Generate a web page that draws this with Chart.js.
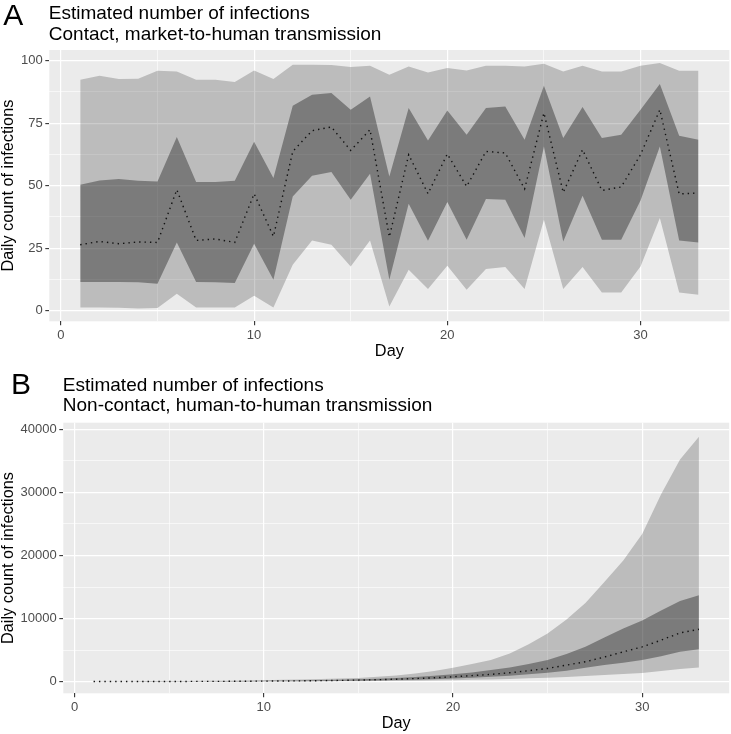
<!DOCTYPE html>
<html><head><meta charset="utf-8">
<script src="https://cdn.jsdelivr.net/npm/chart.js@4.4.0/dist/chart.umd.min.js"></script>
<style>
html,body{margin:0;padding:0;background:#fff;}
#wrap{position:relative;width:731px;height:734px;}
canvas{position:absolute;left:0;}
#cA{top:0;} #cB{top:362px;}
</style></head><body>
<div id="wrap"><canvas id="cA" width="731" height="362"></canvas><canvas id="cB" width="731" height="372"></canvas></div>
<script>
const days = [1,2,3,4,5,6,7,8,9,10,11,12,13,14,15,16,17,18,19,20,21,22,23,24,25,26,27,28,29,30,31,32,33];

// Panel A: contact, market-to-human transmission
const outerUpperA = [92.4,94,92.7,92.8,96,95.7,92.4,92.4,91.5,96.1,92.7,98.4,98.4,98.3,97.5,98,94.4,97.7,95.3,97.1,96.1,98,98,97.7,98.8,95.7,98,95.7,95.7,98,99.1,96,96];
const innerUpperA = [50.4,52.1,52.7,52,51.7,69.5,51.5,51.5,52,67.6,53.1,82,86.4,87.1,80.4,85.7,53.7,81.1,68.1,80.1,70.4,81.1,81.7,68.4,90,69.1,81.5,69.1,70.4,80.4,90.7,70,68.4];
const medianA     = [26.4,27.7,26.8,27.5,27.3,48.4,28.1,28.7,27.3,46.8,29.7,63.7,72,73.5,64.1,72.4,29.5,62.4,46.8,62.7,49.7,63.7,63.1,48.7,79.1,47.3,64.4,48.1,49.5,62.4,80.4,46.7,47.1];
const innerLowerA = [11.5,11.5,11.5,11.4,10.8,27.3,11.5,11.4,11.1,26.8,12.4,45.7,54,55.5,44.4,54.8,12.4,42.8,28,43.5,28.4,44.7,44.4,29.1,65.7,27.7,46,28.4,28.4,44.1,65.7,28.1,27.3];
const outerLowerA = [1.3,1.3,1.2,0.9,1.1,6.8,1.3,1.3,1.3,6,1.3,18.4,28.1,26.4,17.7,28.1,1.7,16.4,8.7,18,8.4,16.7,17.5,8.7,36.4,8.7,17.5,7.3,7.3,17.7,37.1,7.3,6.4];

// Panel B: non-contact, human-to-human transmission
const outerUpperB = [70,76,83,92,103,117,135,160,195,240,290,350,420,500,600,780,1000,1300,1700,2200,2800,3420,4470,5940,7630,9840,12470,15800,19200,23400,29700,35200,38800];
const innerUpperB = [40,43,47,52,58,66,76,90,110,135,165,200,245,305,380,470,590,740,930,1160,1450,1840,2260,2790,3420,4370,5520,7000,8420,9700,11300,12800,13700];
const medianB     = [26,28,30,33,37,42,48,58,72,90,110,135,165,205,255,315,395,495,620,780,960,1160,1420,1740,2100,2630,3160,3900,4730,5520,6580,7730,8310];
const innerLowerB = [16,18,19,21,24,27,31,37,46,58,70,86,105,130,165,205,255,320,400,500,640,790,950,1160,1420,1740,2210,2630,3000,3420,4050,4730,5150];
const outerLowerB = [8,8,9,10,11,12,14,17,21,26,32,40,48,60,75,92,115,145,180,225,290,360,440,530,630,740,890,1050,1210,1370,1680,2000,2260];

// Tick positions (majors labelled, minors only as thin gridlines)
const xTicksMajor = [0,10,20,30];
const xTicksMinor = [5,15,25];
const yTicksMajorA = [0,25,50,75,100];
const yTicksMinorA = [12.5,37.5,62.5,87.5];
const yTicksMajorB = [0,10000,20000,30000,40000];
const yTicksMinorB = [5000,15000,25000,35000];

Chart.defaults.font.family = '"Liberation Sans", Arial, sans-serif';
Chart.defaults.animation = false;

const bgPlugin = {
  id: 'panelBg',
  beforeDraw(chart) {
    const {ctx, chartArea: a} = chart;
    ctx.save();
    ctx.fillStyle = '#EBEBEB';
    ctx.fillRect(a.left, a.top, a.right - a.left, a.bottom - a.top);
    ctx.restore();
  }
};

const titlePlugin = {
  id: 'panelTitle',
  afterDraw(chart, args, o) {
    const ctx = chart.ctx;
    ctx.save();
    ctx.fillStyle = '#000';
    ctx.textAlign = 'left';
    ctx.textBaseline = 'alphabetic';
    ctx.font = '30px "Liberation Sans", Arial, sans-serif';
    ctx.fillText(o.letter, o.letterX, o.letterY);
    ctx.font = '19px "Liberation Sans", Arial, sans-serif';
    o.lines.forEach((t, i) => ctx.fillText(t, chart.chartArea.left - 0.5, o.lineY[i]));
    ctx.restore();
  }
};

function pts(arr) { return days.map((d, i) => ({x: d, y: arr[i]})); }

function datasets(med, iu, il, ou, ol) {
  const clear = 'rgba(0,0,0,0)';
  return [
    {data: pts(med), borderColor: '#111', borderWidth: 1.4, borderDash: [1.4, 4], pointRadius: 0, fill: false, tension: 0},
    {data: pts(iu), borderColor: clear, borderWidth: 0.01, pointRadius: 0, fill: 2, backgroundColor: 'rgba(0,0,0,0.345)'},
    {data: pts(il), borderColor: clear, borderWidth: 0.01, pointRadius: 0, fill: false},
    {data: pts(ou), borderColor: clear, borderWidth: 0.01, pointRadius: 0, fill: 4, backgroundColor: 'rgba(0,0,0,0.2)'},
    {data: pts(ol), borderColor: clear, borderWidth: 0.01, pointRadius: 0, fill: false}
  ];
}

function gridOpts(majors) {
  const isMaj = c => c.tick && majors.includes(c.tick.value);
  return {
    color: '#FFFFFF',
    lineWidth: c => isMaj(c) ? 1.2 : 0.6,
    tickColor: c => isMaj(c) ? '#333333' : 'rgba(0,0,0,0)',
    tickWidth: 1.1,
    tickLength: 4,
    drawTicks: true
  };
}

function setTicks(majors, minors) {
  return s => {
    s.ticks = majors.concat(minors).sort((a, b) => a - b).map(v => ({value: v}));
  };
}

function makeChart(id, cfg) {
  return new Chart(document.getElementById(id), {
    type: 'line',
    data: {datasets: datasets(...cfg.series)},
    plugins: [bgPlugin, titlePlugin],
    options: {
      responsive: false,
      devicePixelRatio: 1,
      layout: {padding: cfg.padding},
      plugins: {
        legend: {display: false},
        tooltip: {enabled: false},
        panelTitle: cfg.title
      },
      scales: {
        x: {
          type: 'linear', min: -0.6, max: 34.6,
          afterBuildTicks: setTicks(xTicksMajor, xTicksMinor),
          afterFit: s => { s.height = 40; },
          border: {display: false},
          grid: gridOpts(xTicksMajor),
          ticks: {autoSkip: false, maxRotation: 0, padding: 2,
                  color: '#4D4D4D', font: {size: 13},
                  callback: v => xTicksMajor.includes(v) ? String(v) : ''},
          title: {display: true, text: 'Day', color: '#000', font: {size: 16.3}, padding: 0}
        },
        y: {
          type: 'linear', min: cfg.ymin, max: cfg.ymax,
          afterBuildTicks: setTicks(cfg.ymajors, cfg.yminors),
          afterFit: s => { s.width = cfg.yw; },
          border: {display: false},
          grid: gridOpts(cfg.ymajors),
          ticks: {autoSkip: false, padding: 2.6,
                  color: '#4D4D4D', font: {size: 13},
                  callback: v => cfg.ymajors.includes(v) ? String(v) : ''},
          title: {display: true, text: 'Daily count of infections', color: '#000',
                  font: {size: 16.3, lineHeight: 1.05}, padding: 0}
        }
      }
    }
  });
}

makeChart('cA', {
  series: [medianA, innerUpperA, innerLowerA, outerUpperA, outerLowerA],
  padding: {left: 0, top: 50, right: 1.6, bottom: 0.7},
  ymin: -4.24, ymax: 104.28, yw: 49.3, ymajors: yTicksMajorA, yminors: yTicksMinorA,
  title: {letter: 'A', letterX: 3.3, letterY: 25, lines: ['Estimated number of infections', 'Contact, market-to-human transmission'], lineY: [18.5, 39.5]}
});

makeChart('cB', {
  series: [medianB, innerUpperB, innerLowerB, outerUpperB, outerLowerB],
  padding: {left: 0, top: 60.7, right: 1.8, bottom: 0.7},
  ymin: -1840, ymax: 41045, yw: 63.3, ymajors: yTicksMajorB, yminors: yTicksMinorB,
  title: {letter: 'B', letterX: 11, letterY: 31.5, lines: ['Estimated number of infections', 'Non-contact, human-to-human transmission'], lineY: [28.5, 49]}
});
</script>
</body></html>
